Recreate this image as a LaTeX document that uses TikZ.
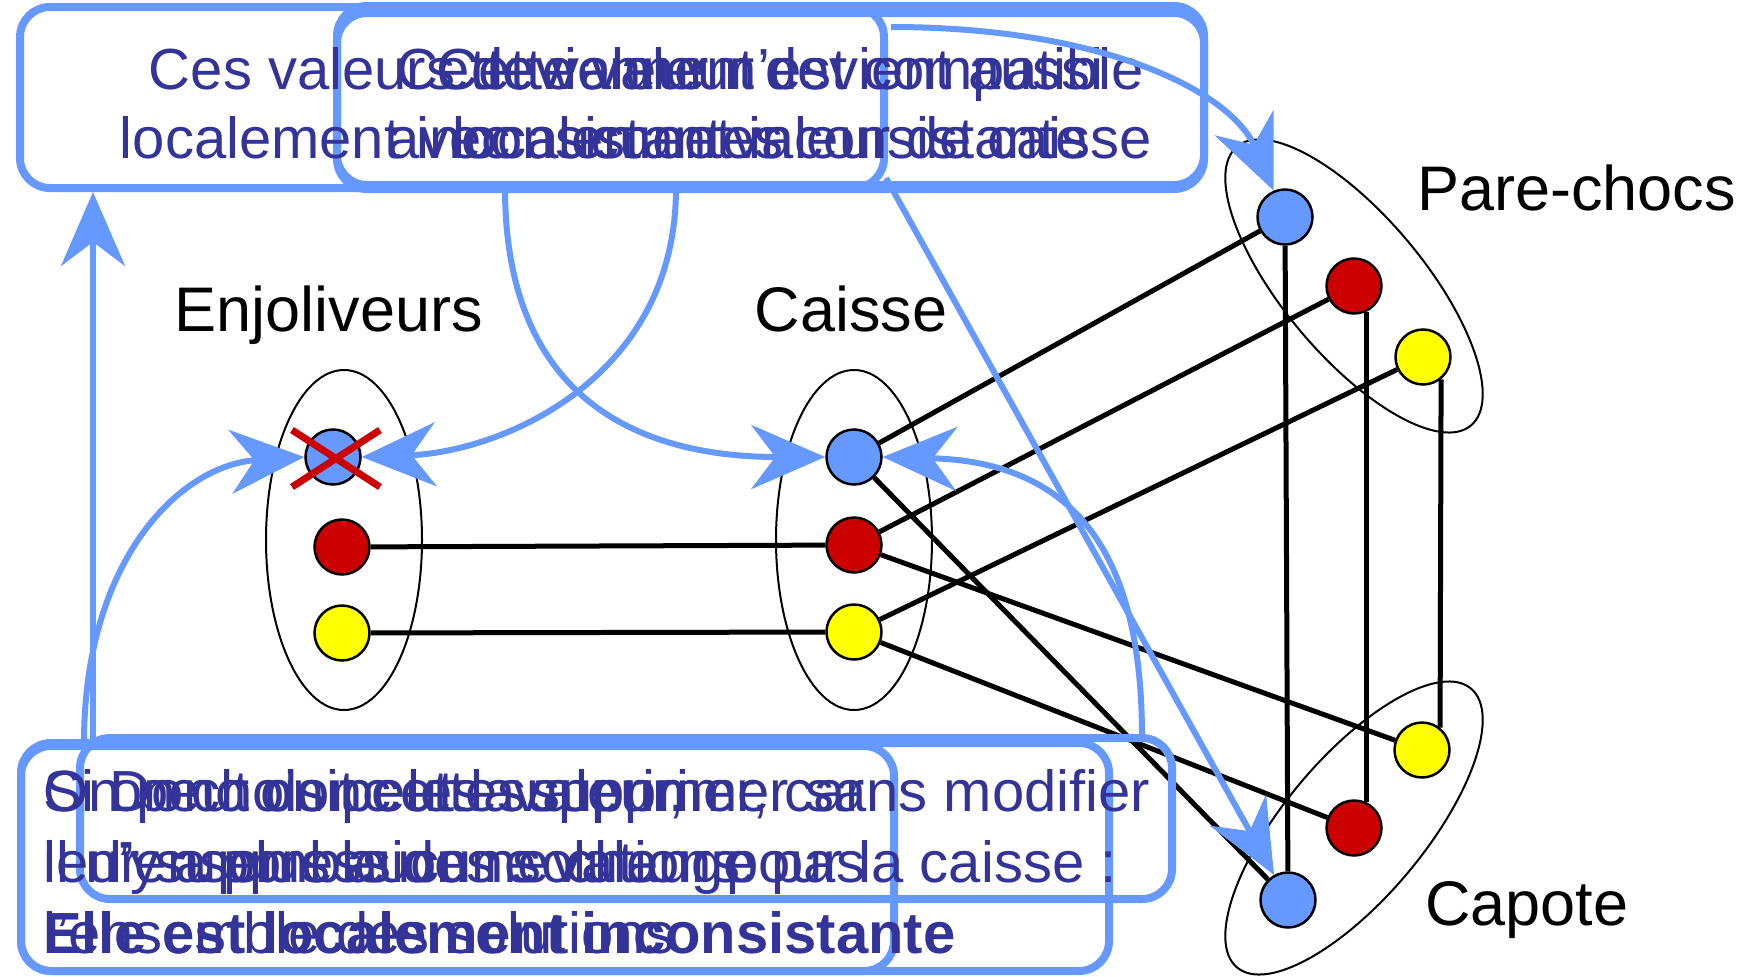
\documentclass[tikz,border=0pt]{standalone}
\usepackage{fontspec}
\setmainfont{Liberation Sans}
\usetikzlibrary{arrows.meta,shapes.geometric}
\definecolor{bblue}{HTML}{6699FF}
\definecolor{tblue}{HTML}{333399}
\definecolor{nred}{HTML}{CC0000}
\definecolor{nyel}{HTML}{FFFF00}
\begin{document}
\begin{tikzpicture}[x=1pt,y=-1pt,
  bx/.style={draw=bblue, line width=8pt, rounded corners=30pt, inner sep=0pt},
  txt/.style={text=tblue, font=\fontsize{58}{68}\selectfont, inner sep=0pt},
  btxt/.style={txt, font=\fontsize{58}{68}\selectfont\bfseries},
  lbl/.style={font=\fontsize{63}{70}\selectfont, inner sep=0pt},
  val/.style={circle, draw=black, line width=2.5pt, minimum size=55pt, inner sep=0pt},
  dom/.style={ellipse, draw=black, line width=2pt, inner sep=0pt},
  lnk/.style={line width=5pt},
  arr/.style={draw=bblue, line width=6pt, -{Stealth[length=74pt,width=64pt,inset=24pt]}},
]
\useasboundingbox (0,0) rectangle (1757,977);

% domains
\node[dom, minimum width=156pt, minimum height=340pt] (dE) at (344,540) {};
\node[dom, minimum width=156pt, minimum height=340pt] (dC) at (854,540) {};
\node[dom, minimum width=364pt, minimum height=140pt, rotate=-50] (dP) at (1354,286) {};
\node[dom, minimum width=364pt, minimum height=140pt, rotate=50] (dK) at (1354,828) {};

% labels
\node[lbl, anchor=base] (lE) at (329,331) {Enjoliveurs};
\node[lbl, anchor=base] (lC) at (851,331) {Caisse};
\node[lbl, anchor=base west] (lP) at (1417,210) {Pare-chocs};
\node[lbl, anchor=base west] (lK) at (1425,925) {Capote};

% values
\node[val, fill=bblue] (eb) at (333,457) {};
\node[val, fill=nred] (er) at (342,547) {};
\node[val, fill=nyel] (ey) at (342,633) {};
\node[val, fill=bblue] (cb) at (854,457) {};
\node[val, fill=nred] (cr) at (854,545) {};
\node[val, fill=nyel] (cy) at (854,632) {};
\node[val, fill=bblue] (pb) at (1285,217) {};
\node[val, fill=nred] (pr) at (1354,286) {};
\node[val, fill=nyel] (py) at (1423,357) {};
\node[val, fill=nyel] (ky) at (1422,750) {};
\node[val, fill=nred] (kr) at (1354,828) {};
\node[val, fill=bblue] (kb) at (1288,900) {};

% constraints
\draw[lnk] (er) -- (cr);
\draw[lnk] (ey) -- (cy);
\draw[lnk] (cb) -- (pb);
\draw[lnk] (cb) -- (kb);
\draw[lnk] (cr) -- (pr);
\draw[lnk] (cr) -- (ky);
\draw[lnk] (cy) -- (py);
\draw[lnk] (cy) -- (kr);
\draw[lnk] (pb) -- (kb);
\draw[lnk] (pr.-64) -- (kr.64);
\draw[lnk] (py.-51) -- (ky.51);

% cross
\draw[nred, line width=7pt] (292,430) -- (380,487) (292,487) -- (380,430);

% boxes
\node[bx, minimum width=864pt, minimum height=181pt] (T1) at (452,97.5) {};
\node[bx, minimum width=867pt, minimum height=172pt] (T2) at (770.5,99) {};
\node[bx, minimum width=867pt, minimum height=183pt] (T3) at (770.5,97.5) {};
\node[bx, minimum width=1088pt, minimum height=228pt] (BA) at (565,857) {};
\node[bx, minimum width=1092pt, minimum height=161pt] (BB) at (626,818.5) {};
\node[bx, minimum width=873pt, minimum height=225pt] (BC) at (457.5,858.5) {};

% top texts
\node[txt, anchor=base] (t1a) at (452,89) {Ces valeurs deviennent};
\node[txt, anchor=base] (t1b) at (452,158) {localement inconsistantes};
\node[txt, anchor=base] (t2a) at (770,89) {Cette valeur n’est compatible};
\node[txt, anchor=base] (t2b) at (770,158) {avec aucune valeur de caisse};
\node[txt, anchor=base] (t3a) at (770,89) {Cette valeur devient aussi};
\node[txt, anchor=base] (t3b) at (770,158) {localement inconsistante};

% bottom texts
\node[txt, anchor=base west] (baa) at (43,811) {Si on choisit cette valeur,};
\node[txt, anchor=base west] (bab) at (43,882) {il n’y a plus aucune valeur pour la caisse :};
\node[btxt, anchor=base west] (bac) at (43,953) {Elle est localement inconsistante};
\node[txt, anchor=base west] (bba) at (109,811) {Donc on peut la supprimer sans modifier};
\node[txt, anchor=base west] (bbb) at (109,882) {l’ensemble des solutions};
\node[txt, anchor=base west] (bca) at (43,811) {On peut donc les supprimer, car};
\node[txt, anchor=base west] (bcb) at (43,882) {leur suppression ne change pas};
\node[txt, anchor=base west] (bcc) at (43,953) {l’ensemble des solutions};

% arrows
\coordinate (a1s) at (93,743);
\coordinate (a2s) at (84,743);
\coordinate (a3s) at (676,188);
\coordinate (a4s) at (505,188);
\coordinate (a5s) at (1142,737);
\coordinate (a6s) at (886,178);
\coordinate (a7s) at (891,27);
\draw[arr] (a1s) -- (a1s |- T1.south);
\draw[arr] (a2s) .. controls (84,560) and (180,465) .. (eb.west);
\draw[arr] (a3s) .. controls (676,380) and (500,452) .. (eb.east);
\draw[arr] (a4s) .. controls (505,400) and (640,457) .. (cb.west);
\draw[arr] (a5s) .. controls (1142,560) and (1080,462) .. (cb.east);
\draw[arr] (a6s) -- (kb);
\draw[arr] (a7s) .. controls (1100,27) and (1230,90) .. (pb);
\end{tikzpicture}
\end{document}
